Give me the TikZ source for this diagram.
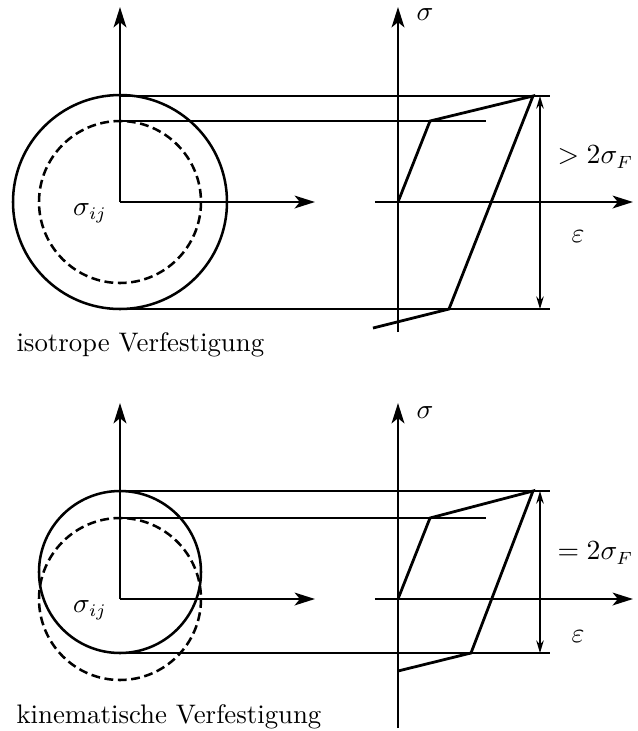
\documentclass[tikz,border=0pt]{standalone}
\usetikzlibrary{arrows.meta}

\begin{document}
\begin{tikzpicture}[
    x=0.0139cm, y=-0.0139cm,
    axis/.style={line width=1.1pt, -{Stealth[length=8pt, width=5pt, inset=2pt]}},
    curve/.style={line width=1.1pt, line join=miter},
    surface/.style={line width=1pt},
    yield/.style={line width=1pt, dash pattern=on 3.5pt off 1.8pt},
    guide/.style={line width=0.5pt},
    base/.style={line width=0.8pt},
    dim/.style={line width=0.5pt, {Stealth[length=5pt, width=3pt]}-{Stealth[length=5pt, width=3pt]}},
    lbl/.style={inner sep=0pt, font=\fontsize{10.6}{12.7}\selectfont}
]
\useasboundingbox (0,0) rectangle (638,731);

% isotrope Verfestigung
\coordinate (o1) at (120,202);
\coordinate (o1y) at (120,7);
\coordinate (o1x) at (315,202);
\coordinate (a1) at (398,202);
\coordinate (a1y) at (398,7);
\coordinate (a1b) at (398,332);
\coordinate (a1l) at (375,202);
\coordinate (a1x) at (633,202);
\coordinate (g1a) at (120,96);  \coordinate (g1ae) at (550,96);
\coordinate (g1b) at (120,121); \coordinate (g1be) at (486,121);
\coordinate (g1c) at (120,309); \coordinate (g1ce) at (550,309);
\coordinate (h1a) at (430,121);
\coordinate (h1b) at (533,96);
\coordinate (h1c) at (449,309);
\coordinate (h1d) at (373,328);
\coordinate (d1t) at (540,96);
\coordinate (d1b) at (540,309);

\draw[guide] (g1a) -- (g1ae);
\draw[guide] (g1b) -- (g1be);
\draw[guide] (g1c) -- (g1ce);
\draw[surface] (o1) circle (107);
\draw[yield] (o1) circle (81);
\draw[axis] (o1) -- (o1y);
\draw[axis] (o1) -- (o1x);
\draw[axis] (a1b) -- (a1y);
\draw[axis] (a1l) -- (a1x);
\draw[curve] (a1) -- (h1a) -- (h1b) -- (h1c) -- (h1d);
\draw[dim] (d1t) -- (d1b);

\node[lbl] (sij1) at (90,213) {$\sigma_{ij}$};
\node[lbl] (sig1) at (425,15) {$\sigma$};
\node[lbl] (eps1) at (578,237) {$\varepsilon$};
\node[lbl, anchor=west] (sf1) at (557,157) {$>2\sigma_F$};
\node[lbl, anchor=west] (iso) at (16,345) {isotrope Verfestigung};

% kinematische Verfestigung
\coordinate (o2) at (120,599);
\coordinate (o2y) at (120,403);
\coordinate (o2x) at (315,599);
\coordinate (m2) at (120,572);
\coordinate (a2) at (398,599);
\coordinate (a2y) at (398,403);
\coordinate (a2b) at (398,728);
\coordinate (a2l) at (375,599);
\coordinate (a2x) at (633,599);
\coordinate (g2a) at (120,491); \coordinate (g2ae) at (550,491);
\coordinate (g2b) at (120,518); \coordinate (g2be) at (486,518);
\coordinate (g2c) at (120,653); \coordinate (g2ce) at (550,653);
\coordinate (h2a) at (430,518);
\coordinate (h2b) at (533,491);
\coordinate (h2c) at (471,653);
\coordinate (h2d) at (398,671);
\coordinate (d2t) at (540,491);
\coordinate (d2b) at (540,653);

\draw[guide] (g2a) -- (g2ae);
\draw[guide] (g2b) -- (g2be);
\draw[base] (g2c) -- (g2ce);
\draw[surface] (m2) circle (81);
\draw[yield] (o2) circle (81);
\draw[axis] (o2) -- (o2y);
\draw[axis] (o2) -- (o2x);
\draw[axis] (a2b) -- (a2y);
\draw[axis] (a2l) -- (a2x);
\draw[curve] (a2) -- (h2a) -- (h2b) -- (h2c) -- (h2d);
\draw[dim] (d2t) -- (d2b);

\node[lbl] (sij2) at (90,610) {$\sigma_{ij}$};
\node[lbl] (sig2) at (425,413) {$\sigma$};
\node[lbl] (eps2) at (578,637) {$\varepsilon$};
\node[lbl, anchor=west] (sf2) at (557,553) {$=2\sigma_F$};
\node[lbl, anchor=west] (kin) at (16,717) {kinematische Verfestigung};

\end{tikzpicture}
\end{document}
